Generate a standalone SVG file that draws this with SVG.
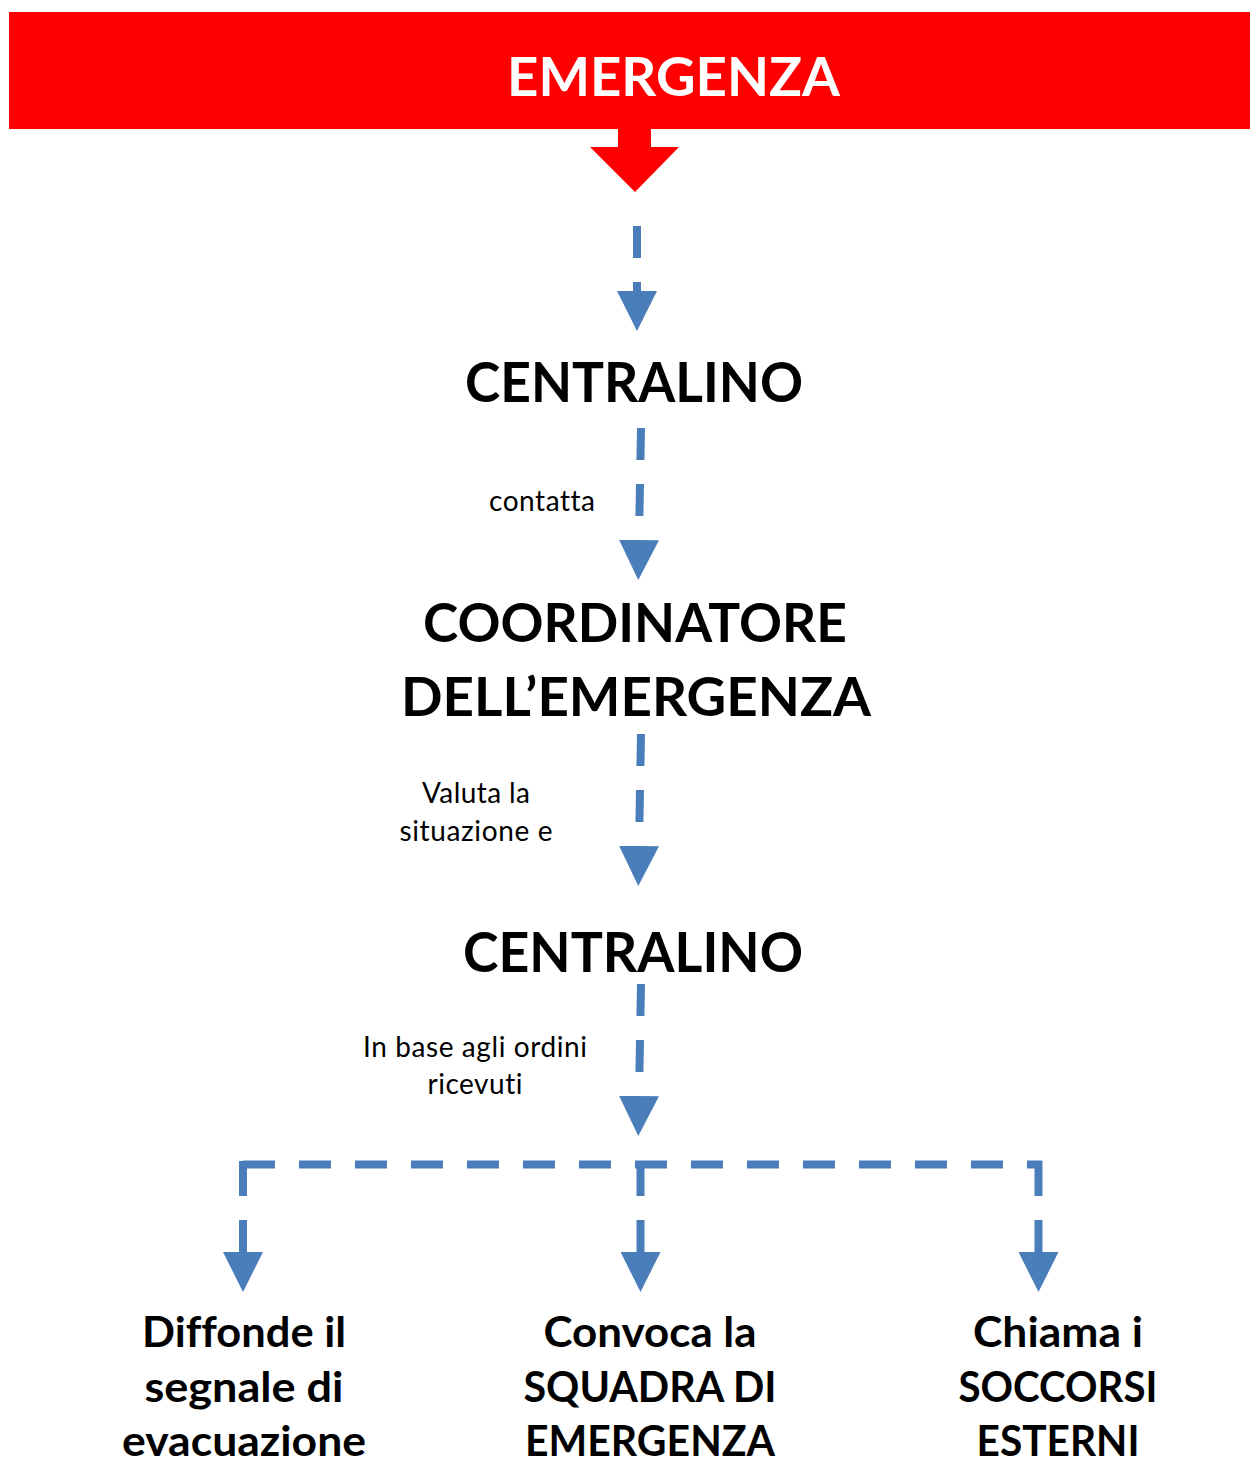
<svg xmlns="http://www.w3.org/2000/svg" width="1250" height="1466" viewBox="0 0 1250 1466">
  <style>
    text { font-variant-ligatures: none; font-feature-settings: "liga" 0, "clig" 0; }
    .big { font-family: Lato, "Liberation Sans", sans-serif; font-weight: bold; fill: #000; text-anchor: middle; }
    .lbl { font-family: Lato, "Liberation Sans", sans-serif; font-size: 28px; fill: #000; text-anchor: middle; }
    .dash { fill: none; stroke: #4A7EBB; stroke-width: 8; stroke-dasharray: 32 24; }
    .vdash { fill: none; stroke: #4A7EBB; stroke-width: 8; stroke-dasharray: 35 24 40; }
  </style>
  <defs>
    <marker id="head" viewBox="0 0 40 40" refX="0" refY="20" markerWidth="40" markerHeight="40" markerUnits="userSpaceOnUse" orient="auto">
      <path d="M0,0 L40,20 L0,40 Z" fill="#4A7EBB"/>
    </marker>
  </defs>

  <g id="emergenza">
    <rect x="9" y="12" width="1241" height="117" fill="#FF0000"/>
    <polygon points="618,128 651,128 651,147 679,147 635,192 590,147 618,147" fill="#FF0000"/>
    <text x="673.5" y="96" class="big" style="fill:#fff" font-size="54" textLength="333" lengthAdjust="spacingAndGlyphs">EMERGENZA</text>
  </g>

  <g id="centralino1">
    <text x="634" y="402" class="big" font-size="55" textLength="338" lengthAdjust="spacingAndGlyphs">CENTRALINO</text>
  </g>

  <g id="coordinatore">
    <text x="635" y="642" class="big" font-size="54" textLength="424" lengthAdjust="spacingAndGlyphs">COORDINATORE</text>
    <text x="636" y="716" class="big" font-size="54" textLength="470" lengthAdjust="spacingAndGlyphs">DELL’EMERGENZA</text>
  </g>

  <g id="centralino2">
    <text x="633" y="972" class="big" font-size="55" textLength="340" lengthAdjust="spacingAndGlyphs">CENTRALINO</text>
  </g>

  <g id="diffonde">
    <text x="244" y="1347" class="big" font-size="42" textLength="204" lengthAdjust="spacingAndGlyphs">Diffonde il</text>
    <text x="244" y="1402" class="big" font-size="42" textLength="199" lengthAdjust="spacingAndGlyphs">segnale di</text>
    <text x="244" y="1456" class="big" font-size="42" textLength="244" lengthAdjust="spacingAndGlyphs">evacuazione</text>
  </g>

  <g id="convoca">
    <text x="650" y="1347" class="big" font-size="42" textLength="213" lengthAdjust="spacingAndGlyphs">Convoca la</text>
    <text x="650" y="1402" class="big" font-size="42" textLength="253" lengthAdjust="spacingAndGlyphs">SQUADRA DI</text>
    <text x="650" y="1456" class="big" font-size="42" textLength="250" lengthAdjust="spacingAndGlyphs">EMERGENZA</text>
  </g>

  <g id="chiama">
    <text x="1058" y="1347" class="big" font-size="42" textLength="170" lengthAdjust="spacingAndGlyphs">Chiama i</text>
    <text x="1058" y="1402" class="big" font-size="42" textLength="199" lengthAdjust="spacingAndGlyphs">SOCCORSI</text>
    <text x="1058" y="1456" class="big" font-size="42" textLength="163" lengthAdjust="spacingAndGlyphs">ESTERNI</text>
  </g>

  <g id="connectors">
    <line x1="637" y1="226" x2="637" y2="291" class="dash" marker-end="url(#head)"/>
    <line x1="641" y1="428" x2="639" y2="540" class="dash" marker-end="url(#head)"/>
    <line x1="641" y1="734" x2="639" y2="846" class="dash" marker-end="url(#head)"/>
    <line x1="641" y1="984" x2="639" y2="1096" class="dash" marker-end="url(#head)"/>
    <line x1="243" y1="1164.5" x2="1042" y2="1164.5" class="dash"/>
    <line x1="243" y1="1161" x2="243" y2="1252" class="vdash" marker-end="url(#head)"/>
    <line x1="640.5" y1="1161" x2="640.5" y2="1252" class="vdash" marker-end="url(#head)"/>
    <line x1="1038.5" y1="1161" x2="1038.5" y2="1252" class="vdash" marker-end="url(#head)"/>
    <text x="542" y="511" class="lbl" textLength="106">contatta</text>
    <text x="476" y="803" class="lbl" textLength="108">Valuta la</text>
    <text x="476" y="841" class="lbl" textLength="153">situazione e</text>
    <text x="475" y="1057" class="lbl" textLength="224">In base agli ordini</text>
    <text x="475" y="1094" class="lbl" textLength="95">ricevuti</text>
  </g>
</svg>
